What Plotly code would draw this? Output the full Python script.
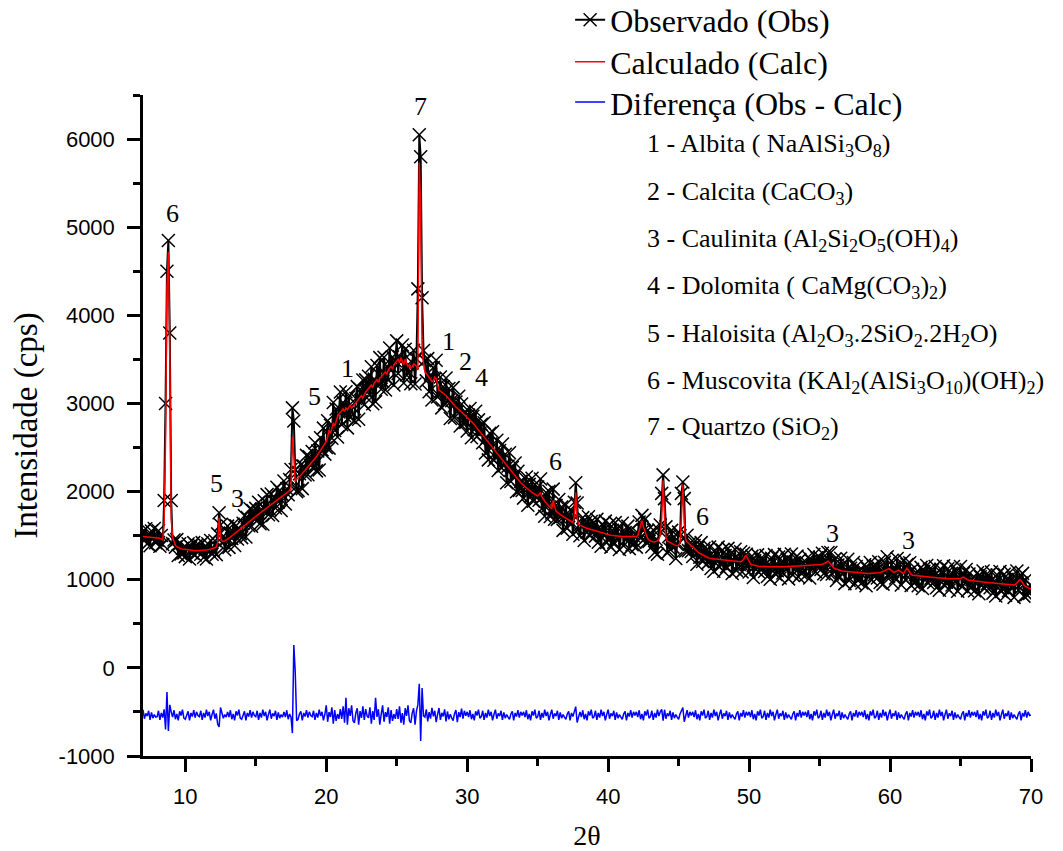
import numpy as np
import plotly.graph_objects as go

# ---------------- data (2θ grid: 7.0 .. 70.0, step 0.1) ----------------
two_theta_start = 7.0
two_theta_step = 0.1

observado = [
    1550,1449,1578,1407,1506,1385,1554,1473,1582,1420,  # 7
    1448,1555,1380,1502,1400,1900,3000,4500,4850,3800,  # 8
    1900,1410,1450,1370,1455,1275,1408,1292,1358,1305,  # 9
    1262,1360,1408,1236,1374,1302,1421,1280,1390,1319,  # 10
    1389,1290,1421,1252,1354,1236,1409,1332,1446,1290,  # 11
    1325,1442,1285,1520,1760,1620,1420,1495,1340,1458,  # 12
    1608,1367,1529,1467,1630,1389,1613,1463,1583,1523,  # 13
    1478,1640,1727,1484,1706,1613,1805,1607,1784,1692,  # 14
    1810,1672,1879,1636,1798,1630,1897,1789,1966,1738,  # 15
    1795,1972,1729,1936,1813,2050,1882,2014,1786,1963,  # 16
    2120,1860,2032,1964,2138,2250,2950,2800,2250,2000,  # 17
    2014,2202,2305,2034,2290,2189,2411,2191,2396,2295,  # 18
    2455,2275,2555,2235,2460,2245,2610,2475,2720,2425,  # 19
    2501,2804,2493,2752,2605,3010,2694,2938,2620,2903,  # 20
    3130,2759,3009,2864,3134,2723,3075,2842,2973,2878,  # 21
    2806,3056,3191,2820,3162,3021,3267,2985,3268,3127,  # 22
    3308,3098,3417,2996,3276,3020,3431,3217,3520,3162,  # 23
    3251,3524,3153,3422,3265,3630,3374,3528,3210,3483,  # 24
    3710,3339,3529,3474,3664,3233,3615,3322,3443,3348,  # 25
    3224,3464,3604,3220,3508,4300,6050,5800,4200,3600,  # 26
    3486,3256,3509,3132,3322,3040,3407,3279,3490,3074,  # 27
    3090,3300,2950,3190,3000,3290,3030,3170,2830,3030,  # 28
    3180,2842,3017,2907,3082,2744,2995,2776,2899,2784,  # 29
    2688,2868,2943,2610,2856,2703,2911,2625,2814,2661,  # 30
    2764,2554,2781,2438,2608,2360,2663,2491,2680,2356,  # 31
    2393,2582,2239,2466,2275,2540,2292,2424,2100,2289,  # 32
    2440,2114,2274,2164,2324,1998,2230,2012,2118,2013,  # 33
    1926,2091,2166,1845,2082,1946,2152,1890,2078,1942,  # 34
    2052,1902,2143,1804,1944,1720,1989,1833,2005,1718,  # 35
    1757,2028,1686,1844,1685,1910,1708,1826,1560,1726,  # 36
    1850,1585,1725,1640,1780,1515,1880,2100,1870,1570,  # 37
    1500,1640,1705,1445,1650,1540,1715,1500,1660,1550,  # 38
    1650,1495,1685,1425,1570,1380,1630,1505,1665,1422,  # 39
    1465,1628,1370,1562,1425,1648,1466,1584,1342,1505,  # 40
    1640,1385,1535,1460,1608,1353,1563,1396,1500,1425,  # 41
    1370,1530,1655,1470,1730,1555,1685,1425,1560,1435,  # 42
    1530,1375,1565,1308,1460,1290,1565,1620,1980,2190,  # 43
    1920,1600,1305,1490,1345,1560,1370,1485,1240,1400,  # 44
    1540,1500,1980,2110,1920,1325,1505,1330,1415,1320,  # 45
    1264,1389,1442,1175,1368,1256,1421,1207,1357,1245,  # 46
    1339,1194,1371,1128,1266,1096,1332,1218,1370,1144,  # 47
    1184,1336,1096,1276,1148,1356,1186,1296,1070,1222,  # 48
    1346,1106,1244,1172,1317,1089,1300,1176,1289,1184,  # 49
    1088,1208,1268,1025,1216,1116,1282,1084,1236,1136,  # 50
    1234,1094,1274,1036,1175,1006,1244,1131,1285,1061,  # 51
    1103,1257,1020,1202,1077,1288,1120,1234,1010,1166,  # 52
    1292,1055,1196,1127,1268,1031,1228,1074,1173,1104,  # 53
    1048,1188,1258,1020,1216,1118,1286,1092,1249,1154,  # 54
    1254,1116,1301,1068,1218,1060,1308,1181,1310,1066,  # 55
    1093,1237,992,1168,1038,1244,1072,1182,956,1108,    # 56
    1232,992,1130,1058,1196,956,1150,994,1090,1019,     # 57
    962,1101,1170,931,1126,1028,1196,1000,1155,1058,    # 58
    1158,1020,1204,968,1113,950,1198,1096,1260,1041,    # 59
    1078,1212,964,1141,1020,1240,1082,1179,940,1089,    # 60
    1220,1002,1172,1082,1192,934,1120,964,1060,989,     # 61
    932,1071,1140,901,1096,996,1162,964,1116,1016,      # 62
    1112,970,1150,910,1048,880,1118,1006,1158,932,      # 63
    972,1124,884,1066,940,1150,982,1094,870,1024,       # 64
    1150,922,1072,992,1117,874,1065,908,1004,932,       # 65
    874,1012,1080,840,1034,934,1100,902,1054,954,       # 66
    1050,908,1088,848,986,816,1053,940,1093,868,        # 67
    909,1062,823,1004,876,1084,914,1024,800,959,        # 68
    1100,882,1042,962,1072,814,995,831,919,844,         # 69
    940,                                                # 70
]

calculado = [
    1490,1489,1488,1487,1486,1485,1484,1483,1482,1480,  # 7
    1478,1475,1470,1462,1450,1650,2600,4300,4720,3600,  # 8
    1700,1480,1420,1390,1375,1365,1358,1352,1348,1345,  # 9
    1342,1340,1338,1336,1334,1332,1331,1330,1330,1329,  # 10
    1329,1330,1331,1332,1334,1336,1339,1342,1346,1350,  # 11
    1355,1362,1375,1420,1700,1480,1440,1435,1440,1448,  # 12
    1458,1472,1484,1497,1510,1524,1538,1553,1568,1583,  # 13
    1598,1610,1622,1634,1646,1658,1670,1682,1694,1707,  # 14
    1720,1732,1744,1756,1768,1780,1792,1804,1816,1828,  # 15
    1840,1852,1864,1876,1888,1900,1912,1924,1936,1948,  # 16
    1960,1972,1984,1996,2010,2030,2620,2400,2110,2140,  # 17
    2150,2168,2186,2204,2222,2240,2258,2276,2294,2312,  # 18
    2335,2355,2375,2395,2420,2445,2470,2495,2520,2545,  # 19
    2570,2620,2700,2660,2720,2780,2740,2800,2850,2880,  # 20
    2900,2920,2940,2910,2950,2930,2960,2980,2950,2970,  # 21
    2990,3010,3030,3050,3070,3090,3060,3100,3130,3150,  # 22
    3170,3190,3210,3180,3230,3250,3270,3240,3290,3300,  # 23
    3320,3340,3360,3330,3380,3400,3420,3390,3440,3460,  # 24
    3480,3500,3460,3520,3480,3440,3500,3460,3420,3440,  # 25
    3400,3420,3450,3440,3420,3380,5730,5200,3600,3450,  # 26
    3360,3340,3320,3300,3280,3250,3260,3300,3280,3200,  # 27
    3150,3140,3130,3110,3100,3090,3070,3050,3030,3010,  # 28
    2990,2975,2960,2945,2930,2915,2900,2890,2880,2860,  # 29
    2840,2830,2810,2800,2780,2760,2740,2720,2700,2680,  # 30
    2650,2630,2610,2590,2570,2550,2530,2510,2490,2470,  # 31
    2450,2430,2410,2390,2370,2350,2330,2310,2290,2270,  # 32
    2260,2240,2220,2200,2180,2160,2140,2120,2100,2085,  # 33
    2070,2055,2040,2025,2010,2000,1990,1980,1970,1960,  # 34
    1950,1970,1990,1940,1910,1890,1870,1850,1835,1820,  # 35
    1805,1900,1830,1780,1765,1750,1740,1730,1720,1710,  # 36
    1700,1690,1680,1670,1660,1650,1720,1990,1700,1630,  # 37
    1620,1610,1600,1595,1590,1585,1580,1575,1570,1565,  # 38
    1560,1555,1550,1545,1540,1530,1525,1520,1515,1512,  # 39
    1510,1508,1505,1502,1500,1498,1496,1494,1492,1490,  # 40
    1490,1490,1490,1490,1488,1488,1488,1486,1485,1485,  # 41
    1490,1500,1550,1620,1670,1600,1550,1500,1470,1450,  # 42
    1440,1435,1430,1428,1430,1440,1460,1500,1700,2125,  # 43
    1700,1480,1440,1430,1420,1410,1400,1395,1390,1385,  # 44
    1390,1420,1700,2080,1650,1460,1430,1420,1400,1380,  # 45
    1380,1360,1340,1320,1310,1300,1290,1280,1270,1260,  # 46
    1255,1250,1245,1240,1238,1236,1234,1232,1230,1228,  # 47
    1226,1224,1222,1220,1218,1216,1214,1212,1210,1208,  # 48
    1206,1204,1202,1200,1205,1215,1230,1260,1275,1240,  # 49
    1200,1180,1170,1165,1160,1158,1156,1154,1152,1150,  # 50
    1150,1150,1148,1148,1147,1146,1146,1145,1145,1145,  # 51
    1145,1145,1146,1146,1147,1148,1148,1150,1150,1152,  # 52
    1152,1153,1154,1155,1156,1157,1158,1158,1159,1160,  # 53
    1160,1160,1160,1160,1160,1160,1160,1162,1165,1168,  # 54
    1170,1172,1175,1180,1190,1200,1210,1195,1170,1150,  # 55
    1135,1125,1118,1112,1108,1104,1100,1098,1096,1094,  # 56
    1092,1090,1088,1086,1084,1082,1080,1078,1076,1075,  # 57
    1074,1073,1072,1071,1070,1070,1070,1070,1071,1072,  # 58
    1074,1076,1078,1080,1085,1090,1100,1110,1120,1125,  # 59
    1120,1100,1090,1085,1090,1100,1110,1095,1080,1075,  # 60
    1080,1100,1130,1110,1080,1060,1050,1048,1046,1045,  # 61
    1044,1043,1042,1041,1040,1038,1036,1034,1032,1030,  # 62
    1028,1026,1024,1022,1020,1020,1020,1020,1018,1016,  # 63
    1014,1012,1010,1010,1010,1010,1010,1010,1010,1010,  # 64
    1010,1020,1030,1020,1005,1000,995,992,990,988,      # 65
    986,984,982,980,978,976,974,972,970,968,            # 66
    966,964,962,960,958,956,955,954,953,952,            # 67
    951,950,949,948,946,944,942,940,940,945,            # 68
    960,980,1000,990,960,940,925,915,905,900,           # 69
    898,                                                # 70
]

diferenca = [
    -475,-577,-517,-547,-487,-589,-505,-571,-529,-559,  # 7
    -553,-487,-589,-511,-565,-470,-700,-275,-716,-420,  # 8
    -499,-559,-481,-583,-523,-595,-493,-541,-475,-571,  # 9
    -583,-523,-493,-595,-511,-553,-481,-565,-499,-541,  # 10
    -553,-487,-589,-511,-565,-475,-547,-499,-595,-529,  # 11
    -475,-577,-517,-640,-670,-450,-505,-571,-529,-559,  # 12
    -499,-559,-481,-583,-523,-595,-493,-541,-475,-571,  # 13
    -583,-523,-493,-595,-511,-553,-481,-565,-499,-541,  # 14
    -553,-487,-589,-511,-565,-475,-547,-499,-595,-529,  # 15
    -475,-577,-517,-547,-487,-589,-505,-571,-529,-559,  # 16
    -499,-559,-481,-583,-523,-560,-740,260,-45,-600,    # 17
    -583,-523,-493,-595,-511,-553,-481,-565,-499,-541,  # 18
    -553,-487,-589,-511,-565,-475,-547,-499,-595,-529,  # 19
    -425,-612,-502,-557,-447,-634,-480,-601,-524,-579,  # 20
    -469,-579,-436,-623,-340,-645,-458,-546,-425,-601,  # 21
    -623,-513,-458,-645,-491,-568,-436,-590,-469,-546,  # 22
    -568,-447,-634,-491,-590,-340,-557,-469,-645,-524,  # 23
    -425,-612,-502,-557,-447,-634,-480,-601,-524,-579,  # 24
    -469,-579,-436,-623,-513,-645,-458,-546,-425,-601,  # 25
    -623,-513,-458,-645,-491,-420,-180,-830,-230,-546,  # 26
    -559,-471,-607,-503,-575,-455,-551,-487,-615,-527,  # 27
    -455,-591,-511,-551,-471,-607,-495,-583,-527,-567,  # 28
    -599,-519,-479,-615,-503,-559,-463,-575,-487,-543,  # 29
    -499,-559,-481,-583,-523,-595,-493,-541,-475,-571,  # 30
    -553,-487,-589,-511,-565,-475,-547,-499,-595,-529,  # 31
    -475,-577,-517,-547,-487,-589,-505,-571,-529,-559,  # 32
    -583,-523,-493,-595,-511,-553,-481,-565,-499,-541,  # 33
    -499,-559,-481,-583,-523,-595,-493,-541,-475,-571,  # 34
    -553,-487,-589,-511,-565,-475,-547,-499,-595,-529,  # 35
    -475,-577,-517,-547,-487,-589,-505,-571,-529,-559,  # 36
    -583,-523,-493,-595,-511,-553,-481,-440,-620,-541,  # 37
    -499,-559,-481,-583,-523,-595,-493,-541,-475,-571,  # 38
    -553,-487,-589,-511,-565,-475,-547,-499,-595,-529,  # 39
    -475,-577,-517,-547,-487,-589,-505,-571,-529,-559,  # 40
    -583,-523,-493,-595,-511,-553,-481,-565,-499,-541,  # 41
    -499,-559,-481,-583,-523,-595,-493,-541,-475,-571,  # 42
    -553,-487,-589,-511,-565,-475,-547,-499,-470,-600,  # 43
    -475,-577,-517,-547,-487,-589,-505,-571,-529,-559,  # 44
    -583,-523,-493,-450,-611,-553,-481,-565,-499,-541,  # 45
    -499,-559,-481,-583,-523,-595,-493,-541,-475,-571,  # 46
    -553,-487,-589,-511,-565,-475,-547,-499,-595,-529,  # 47
    -475,-577,-517,-547,-487,-589,-505,-571,-529,-559,  # 48
    -583,-523,-493,-595,-511,-553,-481,-565,-499,-541,  # 49
    -499,-559,-481,-583,-523,-595,-493,-541,-475,-571,  # 50
    -553,-487,-589,-511,-565,-475,-547,-499,-595,-529,  # 51
    -475,-577,-517,-547,-487,-589,-505,-571,-529,-559,  # 52
    -583,-523,-493,-595,-511,-553,-481,-565,-499,-541,  # 53
    -499,-559,-481,-583,-523,-595,-493,-541,-475,-571,  # 54
    -553,-487,-589,-511,-565,-475,-547,-499,-595,-529,  # 55
    -475,-577,-517,-547,-487,-589,-505,-571,-529,-559,  # 56
    -583,-523,-493,-595,-511,-553,-481,-565,-499,-541,  # 57
    -499,-559,-481,-583,-523,-595,-493,-541,-475,-571,  # 58
    -553,-487,-589,-511,-565,-475,-547,-499,-595,-529,  # 59
    -475,-577,-517,-547,-487,-589,-505,-571,-529,-559,  # 60
    -583,-523,-493,-595,-511,-553,-481,-565,-499,-541,  # 61
    -499,-559,-481,-583,-523,-595,-493,-541,-475,-571,  # 62
    -553,-487,-589,-511,-565,-475,-547,-499,-595,-529,  # 63
    -475,-577,-517,-547,-487,-589,-505,-571,-529,-559,  # 64
    -583,-523,-493,-595,-511,-553,-481,-565,-499,-541,  # 65
    -499,-559,-481,-583,-523,-595,-493,-541,-475,-571,  # 66
    -553,-487,-589,-511,-565,-475,-547,-499,-595,-529,  # 67
    -475,-577,-517,-547,-487,-589,-505,-571,-529,-559,  # 68
    -583,-523,-493,-595,-511,-553,-481,-565,-499,-541,  # 69
    -535,                                               # 70
]

# peak labels: (label, 2θ, intensity)
peak_labels = ["6", "7", "5", "3", "5", "1", "1", "2", "4", "6", "6", "3", "3"]
peak_x = [9.1, 26.7, 12.2, 13.7, 19.2, 21.5, 28.7, 29.9, 31.0, 36.3, 46.7, 55.9, 61.3]
peak_y = [5160, 6370, 2090, 1920, 3080, 3400, 3700, 3480, 3300, 2340, 1716, 1520, 1440]

phases = [
    "1 - Albita ( NaAlSi<sub>3</sub>O<sub>8</sub>)",
    "2 - Calcita (CaCO<sub>3</sub>)",
    "3 - Caulinita (Al<sub>2</sub>Si<sub>2</sub>O<sub>5</sub>(OH)<sub>4</sub>)",
    "4 - Dolomita ( CaMg(CO<sub>3</sub>)<sub>2</sub>)",
    "5 - Haloisita (Al<sub>2</sub>O<sub>3</sub>.2SiO<sub>2</sub>.2H<sub>2</sub>O)",
    "6 - Muscovita (KAl<sub>2</sub>(AlSi<sub>3</sub>O<sub>10</sub>)(OH)<sub>2</sub>)",
    "7 - Quartzo (SiO<sub>2</sub>)",
]

x_ticks = [10, 20, 30, 40, 50, 60, 70]
x_minor = [15, 25, 35, 45, 55, 65]
y_ticks = [-1000, 0, 1000, 2000, 3000, 4000, 5000, 6000]
y_ticktext = ["-1000", "0", "1000", "2000", "3000", "4000", "5000", "6000"]
y_minor = [-500, 500, 1500, 2500, 3500, 4500, 5500, 6500]


def grid(values):
    return np.round(two_theta_start + two_theta_step * np.arange(len(values)), 1)


SERIF = "Liberation Serif, Times New Roman, serif"
SANS = "Liberation Sans, Arial, sans-serif"

fig = go.Figure()
fig.add_trace(go.Scatter(
    x=grid(observado), y=observado, mode="lines+markers", name="Observado (Obs)",
    line=dict(color="black", width=2),
    marker=dict(symbol="x-thin", size=13, line=dict(color="black", width=1.5)),
    legend="legend",
))
fig.add_trace(go.Scatter(
    x=grid(calculado), y=calculado, mode="lines", name="Calculado (Calc)",
    line=dict(color="#ff0000", width=1.5), legend="legend2",
))
fig.add_trace(go.Scatter(
    x=grid(diferenca), y=diferenca, mode="lines", name="Diferença (Obs - Calc)",
    line=dict(color="#0000ff", width=1.5), legend="legend3",
))

for t, xv, yv in zip(peak_labels, peak_x, peak_y):
    fig.add_annotation(x=xv, y=yv, text=t, showarrow=False, xref="x", yref="y",
                       font=dict(family=SERIF, size=26, color="black"))

list_y = [0.924, 0.852, 0.781, 0.710, 0.637, 0.566, 0.496]
for txt, yy in zip(phases, list_y):
    fig.add_annotation(x=0.565, y=yy, xref="paper", yref="paper", text=txt,
                       showarrow=False, xanchor="left", yanchor="middle",
                       font=dict(family=SERIF, size=26, color="black"))

leg_common = dict(x=0.481, xanchor="left", yanchor="middle", bgcolor="rgba(0,0,0,0)",
                  font=dict(family=SERIF, size=32, color="black"))

fig.update_layout(
    width=1063, height=851,
    margin=dict(l=143, r=32, t=95, b=95, autoexpand=False),
    plot_bgcolor="white", paper_bgcolor="white",
    showlegend=True,
    legend=dict(y=1.1135, **leg_common),
    legend2=dict(y=1.050, **leg_common),
    legend3=dict(y=0.989, **leg_common),
    xaxis=dict(
        range=[7, 70], tickmode="array", tickvals=x_ticks,
        ticks="outside", ticklen=13, tickwidth=2.5, tickcolor="black",
        showline=True, linewidth=2.5, linecolor="black", mirror=False,
        showgrid=False, zeroline=False,
        tickfont=dict(family=SANS, size=22, color="black"),
        ticklabelstandoff=6,
        minor=dict(tickmode="array", tickvals=x_minor, ticks="outside", ticklen=7,
                   tickwidth=2.5, tickcolor="black", showgrid=False),
        title=dict(text="2θ", font=dict(family=SERIF, size=28, color="black"), standoff=20),
    ),
    yaxis=dict(
        range=[-1000, 6500], tickmode="array", tickvals=y_ticks, ticktext=y_ticktext,
        ticks="outside", ticklen=13, tickwidth=2.5, tickcolor="black",
        showline=True, linewidth=2.5, linecolor="black", mirror=False,
        showgrid=False, zeroline=False,
        tickfont=dict(family=SANS, size=22, color="black"),
        ticklabelstandoff=8,
        minor=dict(tickmode="array", tickvals=y_minor, ticks="outside", ticklen=7,
                   tickwidth=2.5, tickcolor="black", showgrid=False),
        title=dict(text="Intensidade (cps)", font=dict(family=SERIF, size=33, color="black"),
                   standoff=12),
    ),
)

fig.write_html("out.html")
